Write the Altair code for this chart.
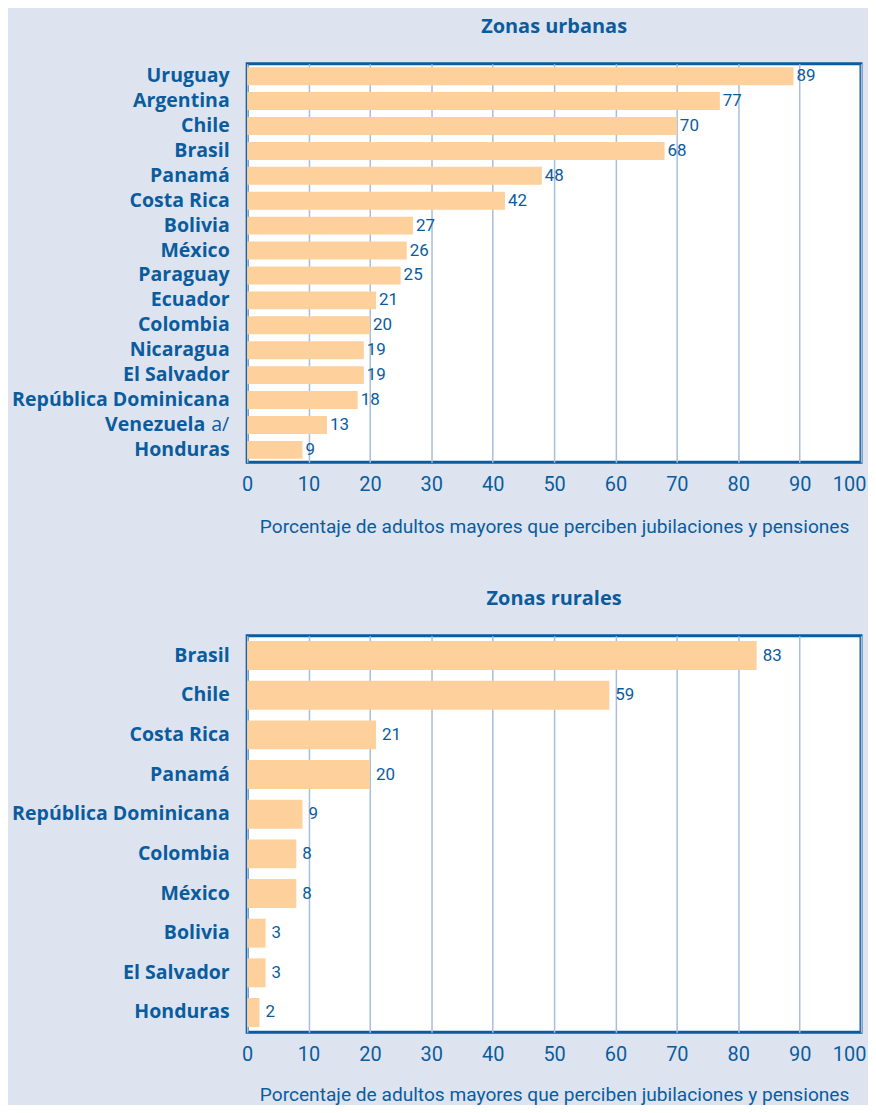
import altair as alt
import pandas as pd

urb_countries = ["Uruguay", "Argentina", "Chile", "Brasil", "Panamá", "Costa Rica", "Bolivia",
                 "México", "Paraguay", "Ecuador", "Colombia", "Nicaragua", "El Salvador",
                 "República Dominicana", "Venezuela a/", "Honduras"]
urb_values = [89, 77, 70, 68, 48, 42, 27, 26, 25, 21, 20, 19, 19, 18, 13, 9]

rur_countries = ["Brasil", "Chile", "Costa Rica", "Panamá", "República Dominicana", "Colombia",
                 "México", "Bolivia", "El Salvador", "Honduras"]
rur_values = [83, 59, 21, 20, 9, 8, 8, 3, 3, 2]

x_ticks = [0, 10, 20, 30, 40, 50, 60, 70, 80, 90, 100]
axis_title = "Porcentaje de adultos mayores que perciben jubilaciones y pensiones"
note_country = "Venezuela a/"
note_name = "Venezuela"
note_text = "a/"

BLUE = "#0b5c9e"
BAR = "#fdd09c"
GRID = "#a9bddc"
COND = "Roboto"
BOLD = "Open Sans"
LABEL_PAD = 18
LABEL_SIZE = 19.6


def panel(countries, values, title, height, pad_inner, dx, title_offset, title_pad):
    df = pd.DataFrame({"country": countries, "value": values})
    y = alt.Y("country:N", sort=countries, title=None,
              scale=alt.Scale(paddingInner=pad_inner, paddingOuter=pad_inner / 2),
              axis=alt.Axis(labelFont=BOLD, labelFontWeight="bold", labelFontSize=LABEL_SIZE,
                            labelColor=BLUE, ticks=False, domain=False, labelPadding=LABEL_PAD,
                            labelLimit=400,
                            labelExpr="datum.label == '" + note_country + "' ? '' : datum.label"))
    x = alt.X("value:Q", title=axis_title,
              scale=alt.Scale(domain=[0, 100], nice=False),
              axis=alt.Axis(values=x_ticks, grid=True, gridColor=GRID, gridWidth=1.5,
                            ticks=False, domain=False, labelFont=COND, labelFontSize=20,
                            labelColor=BLUE, labelPadding=12, titleFont=COND,
                            titleFontSize=19.2, titleFontWeight="normal", titleColor=BLUE,
                            titlePadding=title_pad, labelFlush=False,
                            labelOffset={"condition": {"test": "datum.value === 100",
                                                       "value": -12},
                                         "value": 0}))
    base = alt.Chart(df)
    bars = base.mark_bar(color=BAR).encode(x=x, y=y)
    text = base.mark_text(align="left", baseline="middle", dx=dx, font=COND, fontSize=17,
                          color=BLUE).encode(
        x=alt.X("value:Q", title=axis_title),
        y=alt.Y("country:N", sort=countries, title=None),
        text="value:Q")
    layers = [bars, text]
    if note_country in countries:
        ndf = pd.DataFrame({"country": [note_country], "name": [note_name], "note": [note_text]})
        note = alt.Chart(ndf).mark_text(
            align="right", baseline="middle", dx=-LABEL_PAD, font=BOLD, fontSize=LABEL_SIZE,
            fontWeight="normal", color=BLUE
        ).encode(x=alt.datum(0), y=alt.Y("country:N", sort=countries, title=None),
                 text="note:N")
        name = alt.Chart(ndf).mark_text(
            align="right", baseline="middle", dx=-(LABEL_PAD + 24), font=BOLD,
            fontSize=LABEL_SIZE, fontWeight="bold", color=BLUE
        ).encode(x=alt.datum(0), y=alt.Y("country:N", sort=countries, title=None),
                 text="name:N")
        layers += [note, name]
    return alt.layer(*layers).properties(
        width=616, height=height,
        title=alt.TitleParams(title, font=BOLD, fontSize=20, fontWeight="bold",
                              color=BLUE, offset=title_offset, anchor="middle"))


top = panel(urb_countries, urb_values, "Zonas urbanas", 400, 0.28, 3, 27, 23)
bottom = panel(rur_countries, rur_values, "Zonas rurales", 398, 0.27, 6, 27, 21)

chart = alt.vconcat(top, bottom, spacing=49).properties(
    background="#dde4f0", padding={"left": 2, "top": 5, "right": 0, "bottom": -3}
).configure_view(stroke=BLUE, strokeWidth=3, fill="white")

chart.save("out.html", embed_options={"renderer": "svg", "actions": False})
